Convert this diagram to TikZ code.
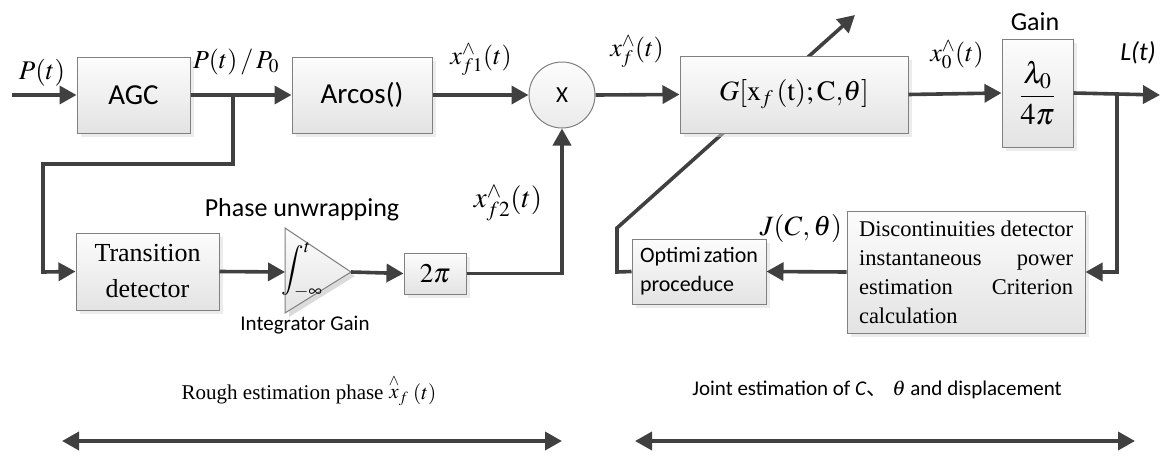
\documentclass[tikz,border=0pt]{standalone}
\usepackage{mathptmx}
\usepackage{fontspec}
\setmainfont{Liberation Serif}
\newfontfamily\calib{Carlito}
\newfontfamily\cjk{Noto Sans CJK SC}
\usetikzlibrary{arrows.meta,shadows}
\definecolor{ln}{HTML}{404040}
\definecolor{bd}{HTML}{808080}
\tikzset{
  blk/.style={draw=bd, line width=1pt, top color=black!1, bottom color=black!11,
    drop shadow={shadow xshift=4pt, shadow yshift=-4pt, fill=black!14},
    inner sep=0pt, align=center},
  conn/.style={draw=ln, line width=3.6pt, -{Triangle[length=17pt,width=18pt]}},
  bidir/.style={draw=ln, line width=3.6pt, {Triangle[length=17pt,width=18pt]}-{Triangle[length=17pt,width=18pt]}},
  sfbig/.style={font=\calib\fontsize{29}{34}\selectfont},
  sfmid/.style={font=\calib\fontsize{26}{30}\selectfont},
  sfsmall/.style={font=\calib\fontsize{22}{29}\selectfont},
  mathlbl/.style={font=\fontsize{26}{30}\selectfont, inner sep=0pt},
  mathbig/.style={font=\fontsize{28}{32}\selectfont, inner sep=0pt},
  rmtxt/.style={font=\fontsize{21}{29}\selectfont, inner sep=0pt}
}
\begin{document}
\begin{tikzpicture}[x=1pt,y=-1pt]
\fill[white] (0,0) rectangle (1161,455);
\useasboundingbox (0,0) rectangle (1161,455);

% optimization box and the diagonal line behind the G box
\node[blk, sfsmall, text width=118pt, align=left, inner xsep=8pt, minimum height=65pt] (opt) at (699,271.5)
  {Optimi\kern3pt zation\\proceduce};
\coordinate (tipG) at (855,15);
\draw[conn] (opt.west) -- (617,272) -- (617,228) -- (tipG);

% blocks
\node[blk, sfbig, minimum width=113pt, minimum height=76pt] (agc) at (133.5,95) {AGC};
\node[blk, sfbig, minimum width=140pt, minimum height=76pt] (arc) at (362,95) {Arcos()};
\node[circle, draw=bd, line width=1pt, top color=black!1, bottom color=black!8, minimum size=66pt, inner sep=0pt,
  font=\calib\fontsize{23}{26}\selectfont] (mul) at (562,95) {X};
\node[blk, mathbig, minimum width=228pt, minimum height=77pt] (G) at (794,94.5)
  {$G[\mathrm{x}_{f}\,\mathrm{(t);C,}\theta]$};
\node[blk, font=\fontsize{30}{34}\selectfont, minimum width=71pt, minimum height=108pt] (gain) at (1037.5,93)
  {$\displaystyle\frac{\lambda_0}{4\pi}$};
\node[blk, font=\fontsize{26}{36}\selectfont, minimum width=143pt, minimum height=77pt] (trans) at (147.5,271.5)
  {Transition\\detector};
\node[blk, font=\fontsize{27}{30}\selectfont, minimum width=62pt, minimum height=41pt] (twopi) at (435,273.5) {$2\pi$};
\node[blk, font=\fontsize{22.5}{29}\selectfont, minimum width=238pt, minimum height=122pt, align=left] (disc) at (966,272)
  {\makebox[214pt][s]{Discontinuities detector}\\
   \makebox[214pt][s]{instantaneous power}\\
   \makebox[214pt][s]{estimation Criterion}\\
   \makebox[214pt][l]{calculation}};

% integrator triangle
\coordinate (intL) at (285,272);
\coordinate (intR) at (351,272);
\fill[black!14] (289,232) -- (355,276) -- (289,317) -- cycle;
\draw[draw=bd, line width=1pt, top color=black!1, bottom color=black!11] (285,228) -- (intR) -- (285,313) -- cycle;
\node[font=\fontsize{25}{28}\selectfont, inner sep=0pt] (intsym) at (302,270) {$\displaystyle\int_{-\infty}^{t}$};

% connectors
\coordinate (inP) at (12,95);
\coordinate (br1) at (233,95);
\coordinate (outL) at (1160,95);
\coordinate (br2) at (1117,95);
\draw[conn] (inP) -- (agc.west);
\draw[conn] (agc.east) -- (arc.west);
\draw[conn] (br1) -- (233,164) -- (43,164) -- (43,272) -- (trans.west);
\draw[conn] (arc.east) -- (mul.west);
\draw[conn] (mul.east) -- (G.west);
\draw[conn] (G.east) -- (gain.west);
\draw[conn] (gain.east) -- (outL);
\draw[conn] (br2) -- (1117,272) -- (disc.east);
\draw[conn] (disc.west) -- (opt.east);
\draw[conn] (trans.east) -- (intL);
\draw[conn] (intR) -- (twopi.west);
\draw[conn] (twopi.east) -- (562,273.5) -- (mul.south);

% labels
\node[mathlbl, font=\fontsize{27}{30}\selectfont] (lP) at (42,73) {$P(t)$};
\node[mathlbl] (lPP) at (236,62) {$P(t)\,/\,P_0$};
\node[mathlbl] (lx1) at (481,60) {$x^{\wedge}_{f1}(t)$};
\node[mathlbl] (lxf) at (637,52) {$x^{\wedge}_{f}(t)$};
\node[mathlbl] (lx0) at (957,55) {$x^{\wedge}_{0}(t)$};
\node[sfmid, inner sep=0pt] (lgain) at (1035,22) {Gain};
\node[sfmid, inner sep=0pt] (lL) at (1138,53) {\itshape L(t)};
\node[mathbig, font=\fontsize{29}{32}\selectfont] (lx2) at (508,203) {$x^{\wedge}_{f2}(t)$};
\node[sfmid, inner sep=0pt] (lph) at (302,210) {Phase unwrapping};
\node[font=\calib\fontsize{21}{24}\selectfont, inner sep=0pt] (lig) at (305,325) {Integrator Gain};
\node[mathbig] (lJ) at (801,228) {$J(C,\theta)$};

% bottom
\node[rmtxt] (lrough) at (309,390) {Rough estimation phase $\stackrel{\wedge}{x}_{f}(t)$};
\node[font=\calib\fontsize{21}{24}\selectfont, inner sep=0pt] (ljoint) at (877,390)
  {Joint estimation of \textit{C}{\cjk 、} $\theta$ and displacement};
\coordinate (a1) at (62,441);
\coordinate (a2) at (562,441);
\coordinate (b1) at (635,441);
\coordinate (b2) at (1135,441);
\draw[bidir] (a1) -- (a2);
\draw[bidir] (b1) -- (b2);
\end{tikzpicture}
\end{document}
